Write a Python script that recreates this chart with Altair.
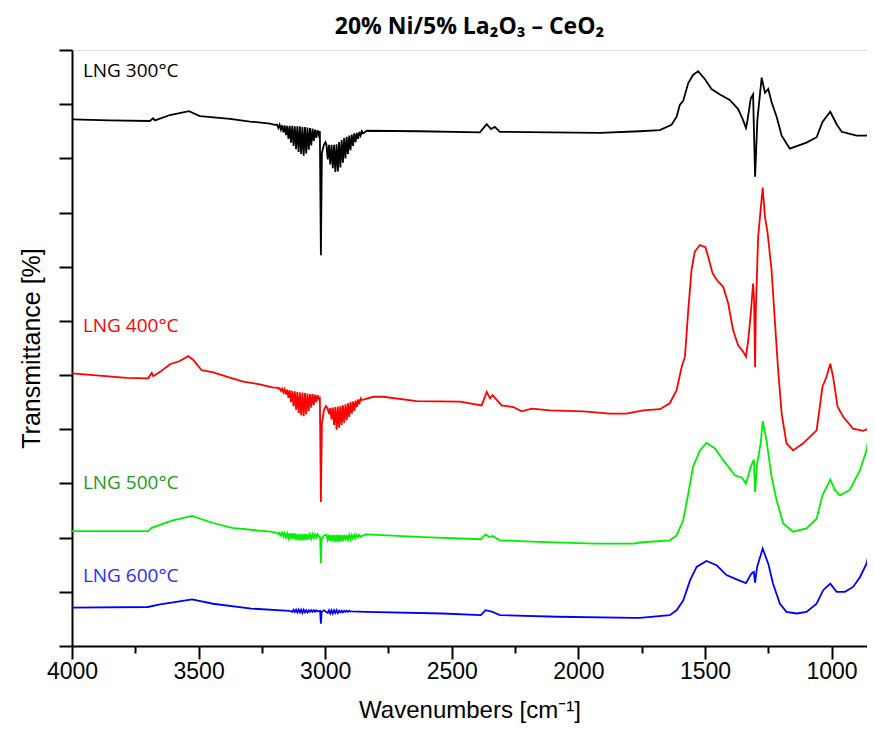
import altair as alt
import pandas as pd

# ---- data (wavenumber cm-1, transmittance a.u.) ----
w_300 = [4000, 3850, 3692, 3680, 3672, 3613, 3538, 3495, 3376, 3297, 3218, 3200,
         3190, 3185, 3180, 3175, 3170, 3165, 3160, 3155, 3150, 3145, 3140, 3135, 3130, 3125, 3120, 3115, 3110, 3105,
         3100, 3095, 3090, 3085, 3080, 3075, 3070, 3065, 3060, 3055, 3050, 3045, 3040, 3035, 3030, 3025,
         3021, 3017, 3013, 3005, 2999,
         2995, 2990, 2985, 2980, 2975, 2970, 2965, 2960, 2955, 2950, 2945, 2940, 2935, 2930, 2925, 2920, 2915, 2910,
         2905, 2900, 2895, 2890, 2885, 2880, 2875, 2870, 2865, 2860, 2855, 2850,
         2836, 2626, 2389, 2362, 2345, 2330, 2310, 2112, 1915, 1757, 1678, 1632, 1612, 1599, 1586, 1566, 1547, 1527,
         1500, 1474, 1441, 1402, 1369, 1349, 1338, 1332, 1319, 1310, 1302, 1293, 1276, 1263, 1250, 1237, 1217, 1197,
         1165, 1099, 1059, 1036, 1005, 980, 960, 901, 862, 842, 829]
t_300 = [97.2, 97.0, 96.9, 97.4, 97.0, 98.0, 98.7, 97.8, 97.3, 96.8, 96.4, 96.2,
         96.2, 95.6, 96.2, 95.3, 96.1, 94.8, 96.1, 94.3, 96.0, 93.6, 96.0, 92.9, 96.0, 92.3, 95.9, 91.7, 95.9, 91.2,
         95.9, 90.8, 95.8, 90.5, 95.8, 90.9, 95.7, 91.6, 95.6, 92.4, 95.5, 93.2, 95.3, 93.8, 95.2, 94.3,
         95.0, 72.1, 91.0, 92.5, 93.0,
         92.5, 89.8, 92.5, 88.9, 92.5, 88.2, 92.5, 87.5, 92.6, 87.6, 93.0, 88.3, 93.4, 89.2, 93.8, 90.0, 94.0, 90.8,
         94.2, 91.5, 94.4, 92.3, 94.6, 93.0, 94.7, 93.6, 94.9, 94.2, 95.0, 94.6,
         95.1, 95.0, 94.8, 96.3, 95.4, 95.8, 94.9, 94.8, 94.7, 95.0, 95.2, 96.2, 97.7, 99.9, 100.6, 103.9, 105.4, 106.1,
         104.6, 102.8, 101.8, 100.8, 99.1, 97.0, 95.6, 97.0, 101.1, 101.8, 86.6, 97.1, 104.9, 102.1, 102.8, 100.4, 97.7, 94.2,
         91.8, 92.9, 93.9, 96.7, 98.6, 96.3, 94.9, 94.2, 94.2, 94.9, 94.6]

w_400 = [4000, 3916, 3784, 3699, 3685, 3679, 3652, 3613, 3574, 3541, 3521, 3488, 3442, 3389, 3324, 3258, 3205,
         3190, 3185, 3180, 3175, 3170, 3165, 3160, 3155, 3150, 3145, 3140, 3135, 3130, 3125, 3120, 3115, 3110, 3105,
         3100, 3095, 3090, 3085, 3080, 3075, 3070, 3065, 3060, 3055, 3050, 3045, 3040, 3035, 3030, 3025,
         3021, 3017, 3013, 3005, 2997,
         2990, 2985, 2980, 2975, 2970, 2965, 2960, 2955, 2950, 2945, 2940, 2935, 2930, 2925, 2920, 2915, 2910, 2905,
         2900, 2895, 2890, 2885, 2880, 2875, 2870, 2865, 2860, 2855,
         2810, 2771, 2639, 2468, 2382, 2362, 2349, 2339, 2303, 2257, 2224, 2185, 2112, 1981, 1875, 1810, 1744, 1678,
         1639, 1612, 1592, 1579, 1566, 1553, 1540, 1520, 1498, 1487, 1470, 1452, 1428, 1408, 1389, 1369, 1349, 1338,
         1329, 1319, 1310, 1306, 1302, 1299, 1290, 1272, 1263, 1253, 1237, 1224, 1211, 1197, 1178, 1152, 1112, 1059,
         1036, 1020, 1005, 994, 976, 954, 915, 875, 829]
t_400 = [50.3, 50.0, 49.5, 49.4, 50.4, 49.8, 50.6, 52.0, 52.6, 53.5, 52.8, 50.9, 50.5, 49.7, 48.8, 48.3, 47.7,
         47.7, 47.5, 47.6, 47.1, 47.5, 46.8, 47.4, 46.4, 47.3, 45.8, 47.2, 45.0, 47.1, 44.2, 47.0, 43.6, 46.9, 43.0,
         46.8, 42.6, 46.8, 42.4, 46.7, 42.8, 46.6, 43.4, 46.5, 44.0, 46.5, 44.5, 46.4, 45.0, 46.3, 45.6,
         46.0, 26.6, 41.0, 43.5, 44.3,
         43.8, 42.8, 43.9, 41.8, 44.0, 40.8, 44.1, 39.9, 44.2, 40.3, 44.3, 40.8, 44.4, 41.2, 44.6, 41.7, 44.8, 42.3,
         45.0, 42.9, 45.1, 43.4, 45.3, 44.1, 45.5, 44.6, 45.7, 45.4,
         46.0, 46.0, 45.2, 45.1, 44.4, 46.9, 45.7, 46.3, 44.4, 44.1, 43.3, 43.8, 43.5, 43.3, 42.9, 42.9, 43.5, 43.7,
         44.8, 47.2, 51.5, 53.4, 62.0, 69.4, 72.8, 74.0, 73.6, 71.8, 68.8, 67.5, 66.3, 63.2, 58.3, 55.5, 54.3, 53.4,
         56.5, 61.4, 66.9, 63.8, 51.5, 62.0, 75.5, 84.6, 79.2, 76.4, 69.4, 60.1, 50.9, 42.9, 37.4, 36.1, 37.4, 39.8,
         47.8, 49.7, 52.1, 49.7, 44.1, 42.3, 40.1, 39.7, 40.6]

w_500 = [4000, 3700, 3685, 3609, 3526, 3443, 3368, 3216,
         3190, 3185, 3180, 3175, 3170, 3165, 3160, 3155, 3150, 3145, 3140, 3135, 3130, 3125, 3120, 3115, 3110, 3105,
         3100, 3095, 3090, 3085, 3080, 3075, 3070, 3065, 3060, 3055, 3050, 3045, 3040, 3035, 3030, 3025,
         3020, 3017, 3014, 3005,
         2995, 2990, 2985, 2980, 2975, 2970, 2965, 2960, 2955, 2950, 2945, 2940, 2935, 2930, 2925, 2920, 2915, 2910,
         2905, 2900, 2895, 2890, 2885, 2880, 2875, 2870, 2865, 2860,
         2839, 2612, 2385, 2367, 2352, 2339, 2310, 2158, 1932, 1781, 1757, 1639, 1612, 1586, 1566, 1547, 1520, 1494,
         1461, 1428, 1382, 1355, 1338, 1319, 1307, 1302, 1294, 1280, 1272, 1257, 1237, 1217, 1191, 1152, 1099, 1059,
         1036, 1005, 987, 967, 928, 888, 862, 849, 829]
t_500 = [21.2, 21.2, 21.8, 23.1, 24.0, 22.7, 21.8, 21.1,
         20.9, 20.6, 20.9, 20.4, 20.9, 20.2, 20.8, 20.0, 20.8, 19.9, 20.8, 19.8, 20.8, 19.7, 20.8, 19.6, 20.7, 19.5,
         20.7, 19.5, 20.7, 19.5, 20.7, 19.6, 20.7, 19.7, 20.6, 19.8, 20.6, 19.9, 20.6, 20.0, 20.6, 20.2,
         20.1, 15.3, 19.8, 20.4,
         20.5, 19.6, 20.5, 19.4, 20.5, 19.3, 20.5, 19.2, 20.5, 19.2, 20.5, 19.3, 20.5, 19.4, 20.5, 19.5, 20.5, 19.6,
         20.5, 19.7, 20.5, 19.8, 20.5, 19.9, 20.5, 20.1, 20.5, 20.2,
         20.6, 20.1, 19.7, 20.6, 20.1, 20.3, 19.5, 19.2, 18.9, 18.9, 19.1, 19.5, 20.4, 23.2, 28.1, 33.1, 36.1, 37.5,
         36.5, 34.3, 31.5, 31.1, 30.0, 33.1, 34.4, 28.4, 33.7, 37.4, 41.5, 38.0, 31.2, 26.9, 22.6, 21.1, 21.7, 23.5,
         27.8, 30.7, 28.8, 27.8, 28.8, 32.4, 36.1, 39.8, 48.5]

w_600 = [4000, 3700, 3652, 3594, 3526, 3443, 3292, 3141,
         3130, 3125, 3120, 3115, 3110, 3105, 3100, 3095, 3090, 3085, 3080, 3075, 3070, 3065, 3060, 3055, 3050, 3045,
         3040, 3035, 3030,
         3020, 3017, 3014, 3005,
         2990, 2985, 2980, 2975, 2970, 2965, 2960, 2955, 2950, 2945, 2940, 2935, 2930, 2925, 2920, 2915, 2910, 2905,
         2900,
         2839, 2536, 2385, 2367, 2339, 2310, 2083, 1781, 1757, 1639, 1612, 1586, 1559, 1533, 1494, 1454, 1415, 1375,
         1338, 1316, 1307, 1302, 1294, 1272, 1250, 1231, 1204, 1178, 1138, 1099, 1059, 1033, 1005, 980, 947, 915,
         888, 862, 849, 829]
t_600 = [7.1, 7.2, 7.7, 8.1, 8.6, 7.8, 6.9, 6.5,
         6.3, 6.7, 6.3, 6.7, 6.2, 6.7, 6.2, 6.7, 6.1, 6.7, 6.2, 6.6, 6.2, 6.6, 6.3, 6.6, 6.3, 6.6,
         6.3, 6.6, 6.4,
         6.5, 4.1, 6.3, 6.6,
         6.1, 6.6, 6.0, 6.6, 6.0, 6.6, 6.1, 6.6, 6.1, 6.5, 6.2, 6.5, 6.2, 6.5, 6.3, 6.5, 6.3, 6.5,
         6.4,
         6.3, 6.0, 5.7, 6.6, 6.3, 5.7, 5.4, 5.2, 5.2, 5.7, 6.6, 8.4, 12.1, 14.6, 15.7, 14.9, 13.1, 12.3,
         11.6, 13.4, 13.7, 11.7, 14.6, 18.0, 15.2, 11.5, 7.8, 6.3, 6.0, 6.3, 7.8, 10.3, 11.5, 10.0, 10.0, 10.9,
         12.7, 15.2, 17.7, 20.8]

series_names = ["LNG 300°C", "LNG 400°C", "LNG 500°C", "LNG 600°C"]
line_colors = ["#000000", "#ff0000", "#00ee00", "#0000ff"]
label_colors = ["#000000", "#ff0000", "#1e9a1e", "#2a2aff"]
label_w = [3957, 3957, 3957, 3957]
label_t = [105.1, 58.0, 28.9, 11.8]

x_ticks = [1000, 1250, 1500, 1750, 2000, 2250, 2500, 2750, 3000, 3250, 3500, 3750, 4000]
y_ticks = [0, 5, 10, 15, 20, 25, 30, 35, 40, 45, 50, 55, 60, 65, 70, 75, 80, 85, 90, 95, 100, 105, 110]

rows = []
for name, ws, ts in zip(series_names, [w_300, w_400, w_500, w_600], [t_300, t_400, t_500, t_600]):
    assert len(ws) == len(ts), (name, len(ws), len(ts))
    for i, (w, t) in enumerate(zip(ws, ts)):
        rows.append({"series": name, "w": w, "t": t, "i": i})
df = pd.DataFrame(rows)
labels = pd.DataFrame({"series": series_names, "w": label_w, "t": label_t, "lc": label_colors})

x_scale = alt.Scale(domain=[4000, 860], nice=False, zero=False)
y_scale = alt.Scale(domain=[0, 110], nice=False, zero=False)

x_axis = alt.Axis(
    values=x_ticks, format="d",
    labelExpr="datum.value % 500 === 0 ? datum.label : ''",
    tickSize={"condition": {"test": "datum.value % 500 === 0", "value": 13}, "value": 7},
    tickWidth=2, tickColor="black", domainColor="black", domainWidth=2,
    labelFont="Liberation Sans", labelFontSize=23, labelColor="black", labelPadding=1,
    labelOverlap=False, labelFlush=False, grid=False,
    title="Wavenumbers [cm⁻¹]", titleFont="Liberation Sans", titleFontSize=24,
    titleFontWeight="normal", titleColor="black", titlePadding=15,
)
y_axis = alt.Axis(
    values=y_ticks, labels=False,
    tickSize={"condition": {"test": "datum.value % 10 === 0", "value": 13}, "value": 7},
    tickWidth=2, tickColor="black", domainColor="black", domainWidth=2, grid=False,
    title="Transmittance [%]", titleFont="Liberation Sans", titleFontSize=25,
    titleFontWeight="normal", titleColor="black", titlePadding=14,
)

lines = alt.Chart(df).mark_line(strokeWidth=1.8, clip=True).encode(
    x=alt.X("w:Q", scale=x_scale, axis=x_axis),
    y=alt.Y("t:Q", scale=y_scale, axis=y_axis),
    color=alt.Color("series:N", scale=alt.Scale(domain=series_names, range=line_colors), legend=None),
    detail="series:N",
    order="i:Q",
)

texts = alt.Chart(labels).mark_text(
    align="left", baseline="alphabetic", font="Open Sans", fontSize=19
).encode(
    x=alt.X("w:Q", scale=x_scale),
    y=alt.Y("t:Q", scale=y_scale),
    text="series:N",
    color=alt.Color("lc:N", scale=None),
)

chart = alt.layer(lines, texts).properties(
    width=795, height=596,
    title=alt.TitleParams(
        text="20% Ni/5% La₂O₃ – CeO₂", font="Open Sans", fontSize=23,
        fontWeight="bold", color="black", anchor="middle", offset=10,
    ),
    autosize=alt.AutoSizeParams(type="none"),
    padding={"left": 64, "top": 42, "right": 0, "bottom": 79},
).configure_view(stroke=None).configure(background="white")

chart.save("out.html", embed_options={"renderer": "svg", "actions": False})
